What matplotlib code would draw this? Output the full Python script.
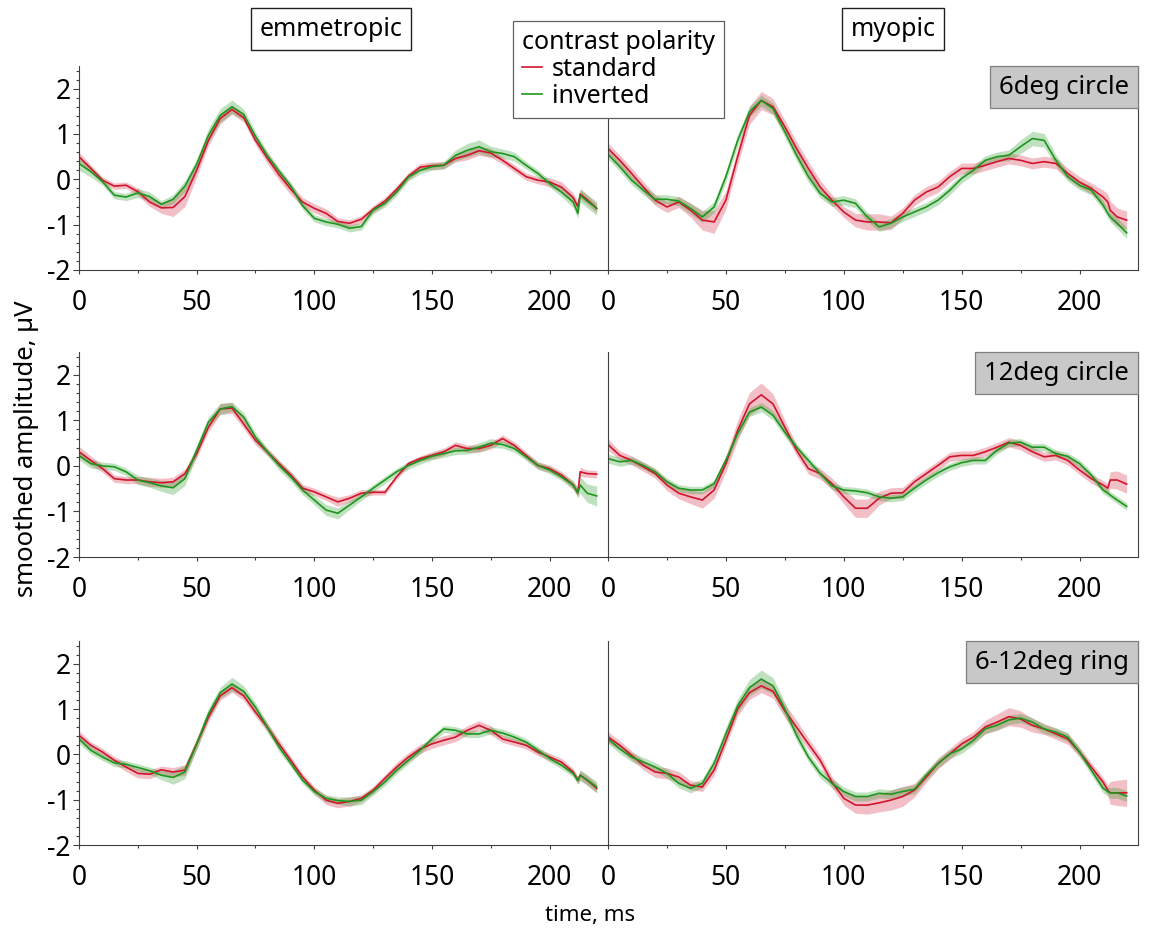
import matplotlib as mpl
mpl.use("Agg")
import matplotlib.pyplot as plt
from matplotlib.lines import Line2D
from matplotlib.ticker import MultipleLocator
import numpy as np

plt.rcParams['font.family'] = ['Noto Sans', 'DejaVu Sans']
plt.rcParams['axes.unicode_minus'] = False

# time axis, ms
t_ms = [0, 5, 10, 15, 20, 25, 30, 35, 40, 45, 50, 55, 60, 65, 70, 75, 80, 85, 90, 95,
        100, 105, 110, 115, 120, 125, 130, 135, 140, 145, 150, 155, 160, 165, 170, 175,
        180, 185, 190, 195, 200, 205, 210, 212, 213, 216, 220]

# emmetropic, 6deg circle
emm_6c_std = [0.5, 0.24, -0.02, -0.15, -0.13, -0.27, -0.5, -0.63, -0.62, -0.38, 0.2, 0.86, 1.34, 1.54,
              1.36, 0.86, 0.47, 0.1, -0.22, -0.5, -0.64, -0.75, -0.93, -0.97, -0.88, -0.66, -0.48,
              -0.22, 0.07, 0.27, 0.3, 0.31, 0.46, 0.53, 0.63, 0.58, 0.42, 0.24, 0.06, -0.02, -0.06,
              -0.17, -0.4, -0.6, -0.32, -0.45, -0.64]
emm_6c_inv = [0.35, 0.17, -0.05, -0.35, -0.39, -0.3, -0.38, -0.55, -0.44, -0.15, 0.33, 0.97, 1.41, 1.6,
              1.43, 0.95, 0.52, 0.18, -0.15, -0.58, -0.86, -0.94, -0.99, -1.08, -1.04, -0.68, -0.53,
              -0.28, 0.05, 0.2, 0.28, 0.31, 0.53, 0.64, 0.72, 0.61, 0.57, 0.5, 0.31, 0.13, -0.09,
              -0.28, -0.5, -0.75, -0.35, -0.48, -0.64]
emm_6c_std_se = [0.1, 0.08, 0.07, 0.07, 0.07, 0.08, 0.1, 0.12, 0.2, 0.22, 0.15, 0.12, 0.12, 0.1, 0.1,
                 0.1, 0.12, 0.12, 0.12, 0.1, 0.1, 0.1, 0.08, 0.08, 0.08, 0.08, 0.08, 0.08, 0.08, 0.08,
                 0.08, 0.08, 0.08, 0.1, 0.1, 0.1, 0.08, 0.08, 0.08, 0.08, 0.1, 0.12, 0.1, 0.1, 0.1,
                 0.1, 0.1]
emm_6c_inv_se = [0.15, 0.12, 0.08, 0.08, 0.08, 0.1, 0.1, 0.08, 0.1, 0.12, 0.12, 0.15, 0.15, 0.15, 0.12,
                 0.1, 0.1, 0.08, 0.08, 0.08, 0.08, 0.08, 0.08, 0.08, 0.08, 0.08, 0.08, 0.08, 0.08, 0.08,
                 0.08, 0.08, 0.12, 0.15, 0.15, 0.12, 0.1, 0.1, 0.08, 0.08, 0.08, 0.1, 0.12, 0.12, 0.15,
                 0.15, 0.15]

# myopic, 6deg circle
myo_6c_std = [0.68, 0.42, 0.13, -0.17, -0.46, -0.61, -0.5, -0.68, -0.9, -0.94, -0.46, 0.5, 1.41, 1.74,
              1.6, 1.16, 0.68, 0.24, -0.17, -0.46, -0.72, -0.9, -0.94, -0.94, -0.96, -0.75, -0.46,
              -0.28, -0.17, 0.06, 0.24, 0.24, 0.31, 0.39, 0.46, 0.42, 0.35, 0.39, 0.35, 0.13, -0.06,
              -0.2, -0.39, -0.5, -0.68, -0.83, -0.9]
myo_6c_inv = [0.55, 0.28, -0.02, -0.24, -0.44, -0.44, -0.48, -0.64, -0.83, -0.61, 0.06, 0.86, 1.49,
              1.74, 1.56, 1.05, 0.53, 0.06, -0.31, -0.5, -0.46, -0.53, -0.83, -1.05, -0.97, -0.83,
              -0.72, -0.61, -0.46, -0.24, 0.02, 0.2, 0.42, 0.5, 0.53, 0.72, 0.9, 0.86, 0.42, 0.06,
              -0.13, -0.24, -0.57, -0.75, -0.83, -0.97, -1.18]
myo_6c_std_se = [0.12, 0.12, 0.12, 0.12, 0.12, 0.12, 0.12, 0.15, 0.22, 0.25, 0.2, 0.18, 0.2, 0.2, 0.18,
                 0.15, 0.15, 0.15, 0.15, 0.12, 0.12, 0.15, 0.18, 0.18, 0.15, 0.12, 0.12, 0.12, 0.12,
                 0.12, 0.12, 0.12, 0.12, 0.12, 0.12, 0.12, 0.12, 0.12, 0.12, 0.12, 0.12, 0.12, 0.15,
                 0.18, 0.2, 0.2, 0.2]
myo_6c_inv_se = [0.1, 0.1, 0.1, 0.1, 0.1, 0.1, 0.1, 0.12, 0.12, 0.12, 0.12, 0.12, 0.12, 0.12, 0.12,
                 0.12, 0.12, 0.12, 0.1, 0.1, 0.1, 0.1, 0.1, 0.1, 0.1, 0.1, 0.1, 0.1, 0.1, 0.1, 0.1,
                 0.1, 0.1, 0.1, 0.12, 0.15, 0.16, 0.15, 0.12, 0.1, 0.1, 0.1, 0.1, 0.1, 0.1, 0.12, 0.12]

# emmetropic, 12deg circle
emm_12c_std = [0.31, 0.12, -0.06, -0.28, -0.31, -0.31, -0.35, -0.37, -0.35, -0.17, 0.27, 0.85, 1.25,
               1.27, 0.92, 0.56, 0.31, 0.05, -0.2, -0.49, -0.57, -0.68, -0.79, -0.71, -0.6, -0.58,
               -0.58, -0.24, 0.05, 0.16, 0.23, 0.31, 0.45, 0.38, 0.38, 0.45, 0.6, 0.45, 0.23, 0.01,
               -0.06, -0.2, -0.42, -0.59, -0.13, -0.17, -0.18]
emm_12c_inv = [0.23, 0.05, 0.0, -0.02, -0.13, -0.31, -0.37, -0.44, -0.48, -0.28, 0.34, 0.96, 1.25, 1.3,
               1.07, 0.63, 0.31, 0.01, -0.24, -0.53, -0.75, -0.97, -1.04, -0.86, -0.68, -0.49, -0.31,
               -0.13, 0.01, 0.12, 0.21, 0.27, 0.33, 0.34, 0.41, 0.5, 0.47, 0.38, 0.2, 0.01, -0.09,
               -0.24, -0.42, -0.59, -0.42, -0.6, -0.66]
emm_12c_std_se = [0.12, 0.1, 0.08, 0.08, 0.08, 0.08, 0.1, 0.1, 0.1, 0.1, 0.1, 0.1, 0.12, 0.12, 0.1,
                  0.1, 0.08, 0.08, 0.08, 0.08, 0.08, 0.08, 0.1, 0.08, 0.08, 0.06, 0.06, 0.06, 0.06,
                  0.06, 0.08, 0.08, 0.08, 0.08, 0.08, 0.08, 0.08, 0.08, 0.08, 0.08, 0.08, 0.08, 0.08,
                  0.1, 0.1, 0.08, 0.08]
emm_12c_inv_se = [0.1, 0.1, 0.08, 0.08, 0.08, 0.1, 0.1, 0.12, 0.15, 0.15, 0.12, 0.12, 0.12, 0.1, 0.1,
                  0.1, 0.08, 0.1, 0.1, 0.1, 0.1, 0.12, 0.12, 0.1, 0.08, 0.08, 0.08, 0.08, 0.08, 0.08,
                  0.08, 0.08, 0.08, 0.08, 0.1, 0.1, 0.08, 0.08, 0.08, 0.08, 0.08, 0.08, 0.1, 0.1, 0.18,
                  0.2, 0.22]

# myopic, 12deg circle
myo_12c_std = [0.47, 0.23, 0.12, -0.02, -0.17, -0.42, -0.6, -0.68, -0.75, -0.53, 0.05, 0.78, 1.36,
               1.56, 1.36, 0.85, 0.34, -0.06, -0.17, -0.39, -0.68, -0.93, -0.93, -0.71, -0.6, -0.59,
               -0.35, -0.17, 0.01, 0.2, 0.23, 0.23, 0.31, 0.41, 0.52, 0.45, 0.31, 0.2, 0.23, 0.12,
               -0.09, -0.28, -0.42, -0.49, -0.31, -0.31, -0.4]
myo_12c_inv = [0.16, 0.09, 0.12, 0.01, -0.13, -0.35, -0.49, -0.53, -0.53, -0.39, 0.12, 0.71, 1.18,
               1.29, 1.11, 0.74, 0.41, 0.12, -0.17, -0.44, -0.53, -0.55, -0.59, -0.68, -0.71, -0.68,
               -0.49, -0.31, -0.15, -0.02, 0.07, 0.12, 0.12, 0.34, 0.5, 0.52, 0.41, 0.41, 0.27, 0.21,
               0.05, -0.2, -0.53, -0.6, -0.64, -0.75, -0.89]
myo_12c_std_se = [0.12, 0.1, 0.1, 0.1, 0.1, 0.12, 0.12, 0.15, 0.18, 0.18, 0.18, 0.22, 0.25, 0.26,
                  0.22, 0.15, 0.12, 0.12, 0.12, 0.12, 0.15, 0.2, 0.2, 0.15, 0.12, 0.12, 0.1, 0.1,
                  0.1, 0.1, 0.1, 0.1, 0.1, 0.1, 0.1, 0.1, 0.1, 0.1, 0.1, 0.1, 0.1, 0.1, 0.1, 0.1,
                  0.18, 0.2, 0.2]
myo_12c_inv_se = [0.1, 0.1, 0.08, 0.08, 0.08, 0.08, 0.08, 0.08, 0.08, 0.08, 0.1, 0.1, 0.1, 0.1, 0.1,
                  0.1, 0.08, 0.08, 0.08, 0.08, 0.08, 0.08, 0.08, 0.08, 0.08, 0.08, 0.08, 0.08, 0.08,
                  0.08, 0.08, 0.08, 0.08, 0.08, 0.08, 0.08, 0.08, 0.08, 0.08, 0.08, 0.08, 0.08, 0.08,
                  0.08, 0.08, 0.08, 0.08]

# emmetropic, 6-12deg ring
emm_ring_std = [0.42, 0.2, 0.05, -0.13, -0.28, -0.42, -0.44, -0.34, -0.39, -0.35, 0.23, 0.82, 1.29,
                1.47, 1.29, 0.93, 0.6, 0.23, -0.13, -0.5, -0.79, -1.01, -1.08, -1.04, -0.97, -0.79,
                -0.53, -0.28, -0.06, 0.12, 0.23, 0.31, 0.38, 0.53, 0.64, 0.53, 0.34, 0.27, 0.2, 0.05,
                -0.06, -0.17, -0.39, -0.57, -0.46, -0.57, -0.75]
emm_ring_inv = [0.34, 0.09, -0.06, -0.19, -0.22, -0.29, -0.36, -0.46, -0.51, -0.39, 0.23, 0.89, 1.36,
                1.55, 1.39, 1.04, 0.6, 0.16, -0.2, -0.57, -0.82, -0.97, -1.02, -1.04, -1.01, -0.82,
                -0.61, -0.35, -0.13, 0.09, 0.34, 0.56, 0.53, 0.45, 0.45, 0.53, 0.47, 0.38, 0.27, 0.09,
                -0.09, -0.24, -0.42, -0.58, -0.46, -0.57, -0.72]
emm_ring_std_se = [0.1, 0.08, 0.08, 0.08, 0.1, 0.1, 0.1, 0.08, 0.1, 0.12, 0.12, 0.1, 0.1, 0.1, 0.1,
                   0.1, 0.1, 0.1, 0.08, 0.08, 0.08, 0.1, 0.1, 0.1, 0.08, 0.08, 0.08, 0.1, 0.1, 0.1,
                   0.1, 0.1, 0.1, 0.1, 0.1, 0.1, 0.08, 0.08, 0.08, 0.08, 0.08, 0.08, 0.08, 0.08, 0.1,
                   0.1, 0.1]
emm_ring_inv_se = [0.1, 0.08, 0.08, 0.08, 0.08, 0.08, 0.08, 0.1, 0.15, 0.15, 0.12, 0.12, 0.12, 0.15,
                   0.12, 0.1, 0.1, 0.1, 0.08, 0.08, 0.08, 0.08, 0.08, 0.1, 0.1, 0.08, 0.08, 0.08,
                   0.08, 0.08, 0.08, 0.08, 0.08, 0.08, 0.08, 0.08, 0.08, 0.08, 0.08, 0.08, 0.08,
                   0.08, 0.08, 0.08, 0.12, 0.12, 0.12]

# myopic, 6-12deg ring
myo_ring_std = [0.38, 0.2, -0.02, -0.24, -0.39, -0.42, -0.5, -0.68, -0.72, -0.35, 0.31, 1.0, 1.36,
                1.51, 1.39, 0.96, 0.6, 0.23, -0.13, -0.61, -0.97, -1.12, -1.12, -1.07, -1.01, -0.93,
                -0.79, -0.5, -0.2, 0.01, 0.23, 0.38, 0.6, 0.71, 0.83, 0.78, 0.64, 0.56, 0.45, 0.34,
                0.05, -0.28, -0.61, -0.79, -0.85, -0.85, -0.85]
myo_ring_inv = [0.34, 0.12, -0.06, -0.17, -0.28, -0.42, -0.64, -0.75, -0.64, -0.2, 0.45, 1.07, 1.47,
                1.66, 1.51, 1.0, 0.42, -0.06, -0.42, -0.64, -0.82, -0.93, -0.93, -0.86, -0.88, -0.82,
                -0.77, -0.46, -0.2, 0.01, 0.12, 0.31, 0.56, 0.64, 0.76, 0.8, 0.71, 0.56, 0.49, 0.38,
                0.05, -0.35, -0.75, -0.82, -0.85, -0.85, -0.92]
myo_ring_std_se = [0.12, 0.1, 0.1, 0.1, 0.12, 0.12, 0.12, 0.1, 0.1, 0.12, 0.12, 0.15, 0.15, 0.15,
                   0.15, 0.15, 0.15, 0.12, 0.12, 0.12, 0.15, 0.18, 0.2, 0.2, 0.22, 0.22, 0.15, 0.12,
                   0.12, 0.12, 0.12, 0.12, 0.15, 0.18, 0.2, 0.18, 0.15, 0.12, 0.12, 0.12, 0.1, 0.1,
                   0.1, 0.12, 0.25, 0.28, 0.3]
myo_ring_inv_se = [0.1, 0.1, 0.1, 0.1, 0.1, 0.1, 0.1, 0.1, 0.1, 0.12, 0.15, 0.15, 0.18, 0.2, 0.18,
                   0.15, 0.12, 0.1, 0.1, 0.1, 0.1, 0.1, 0.1, 0.1, 0.1, 0.1, 0.1, 0.1, 0.1, 0.1, 0.1,
                   0.1, 0.1, 0.1, 0.1, 0.1, 0.1, 0.1, 0.1, 0.1, 0.1, 0.1, 0.1, 0.1, 0.12, 0.12, 0.12]

groups = ["emmetropic", "myopic"]
stimuli = ["6deg circle", "12deg circle", "6-12deg ring"]
panels = [
    [(emm_6c_std, emm_6c_std_se, emm_6c_inv, emm_6c_inv_se),
     (myo_6c_std, myo_6c_std_se, myo_6c_inv, myo_6c_inv_se)],
    [(emm_12c_std, emm_12c_std_se, emm_12c_inv, emm_12c_inv_se),
     (myo_12c_std, myo_12c_std_se, myo_12c_inv, myo_12c_inv_se)],
    [(emm_ring_std, emm_ring_std_se, emm_ring_inv, emm_ring_inv_se),
     (myo_ring_std, myo_ring_std_se, myo_ring_inv, myo_ring_inv_se)],
]

red = '#d2142d'
green = '#1e961e'
spine_c = '#404040'

W, H = 1149, 933
fig = plt.figure(figsize=(W / 100, H / 100), dpi=100)

col_px = [(79, 528.5), (608, 529.5)]
row_px = [(66, 270), (352, 557), (641, 845)]

box_fs = 18.5
box_pad = 0.34
pad_px = box_pad * box_fs * 100 / 72

t = np.array(t_ms)
for r, (y0, y1) in enumerate(row_px):
    for c, (x0, w) in enumerate(col_px):
        ax = fig.add_axes([x0 / W, 1 - y1 / H, w / W, (y1 - y0) / H])
        std, std_se, inv, inv_se = [np.array(a) for a in panels[r][c]]
        ax.fill_between(t, std - std_se, std + std_se, color=red, alpha=0.27, lw=0)
        ax.fill_between(t, inv - inv_se, inv + inv_se, color=green, alpha=0.28, lw=0)
        ax.plot(t, std, color=red, lw=1.2)
        ax.plot(t, inv, color=green, lw=1.2)
        ax.set_xlim(0, 224.6)
        ax.set_ylim(-2, 2.5)
        ax.xaxis.set_major_locator(MultipleLocator(50))
        ax.xaxis.set_minor_locator(MultipleLocator(25))
        ax.tick_params(axis='x', which='major', length=3, width=0.8, color=spine_c,
                       labelsize=19, pad=11)
        ax.tick_params(axis='x', which='minor', length=2, width=0.8, color=spine_c)
        ax.spines['top'].set_visible(False)
        for s in ax.spines.values():
            s.set_color(spine_c)
            s.set_linewidth(0.8)
        if c == 0:
            ax.spines['right'].set_visible(False)
            ax.yaxis.set_major_locator(MultipleLocator(1))
            ax.yaxis.set_minor_locator(MultipleLocator(0.2))
            ax.tick_params(axis='y', which='major', length=4.3, width=0.8, color=spine_c,
                           labelsize=19, pad=1.5)
            ax.tick_params(axis='y', which='minor', length=2.2, width=0.8, color=spine_c)
        else:
            ax.yaxis.set_major_locator(mpl.ticker.NullLocator())
            ax.yaxis.set_minor_locator(mpl.ticker.NullLocator())
            ax.text(1 - pad_px / w, 1 - pad_px / (y1 - y0), stimuli[r],
                    transform=ax.transAxes, ha='right', va='top', fontsize=box_fs, zorder=5,
                    bbox=dict(boxstyle='square,pad=%.2f' % box_pad, fc='#c8c8c8', ec='#808080',
                              lw=0.9))

# column headers
for name, xc in zip(groups, [331, 893]):
    fig.text(xc / W, 1 - 29 / H, name, ha='center', va='center', fontsize=18,
             bbox=dict(boxstyle='square,pad=0.35', fc='white', ec='#202020', lw=1.0))

handles = [Line2D([], [], color=red, lw=1.2), Line2D([], [], color=green, lw=1.2)]
leg = fig.legend(handles, ["standard", "inverted"], title="contrast polarity",
                 loc='upper left', bbox_to_anchor=(513 / W, 1 - 21 / H), borderaxespad=0,
                 fontsize=18, title_fontsize=18, fancybox=False, edgecolor='#606060',
                 framealpha=1, handlelength=0.8, handletextpad=0.4, labelspacing=0.08,
                 borderpad=0.35, alignment='left')
leg.get_frame().set_linewidth(0.9)

fig.text(27 / W, 1 - 449 / H, "smoothed amplitude, µV", rotation=90, ha='center', va='center',
         fontsize=18.5)
fig.text(590 / W, 1 - 915 / H, "time, ms", ha='center', va='center', fontsize=16)

fig.savefig("out.png", dpi=100)
